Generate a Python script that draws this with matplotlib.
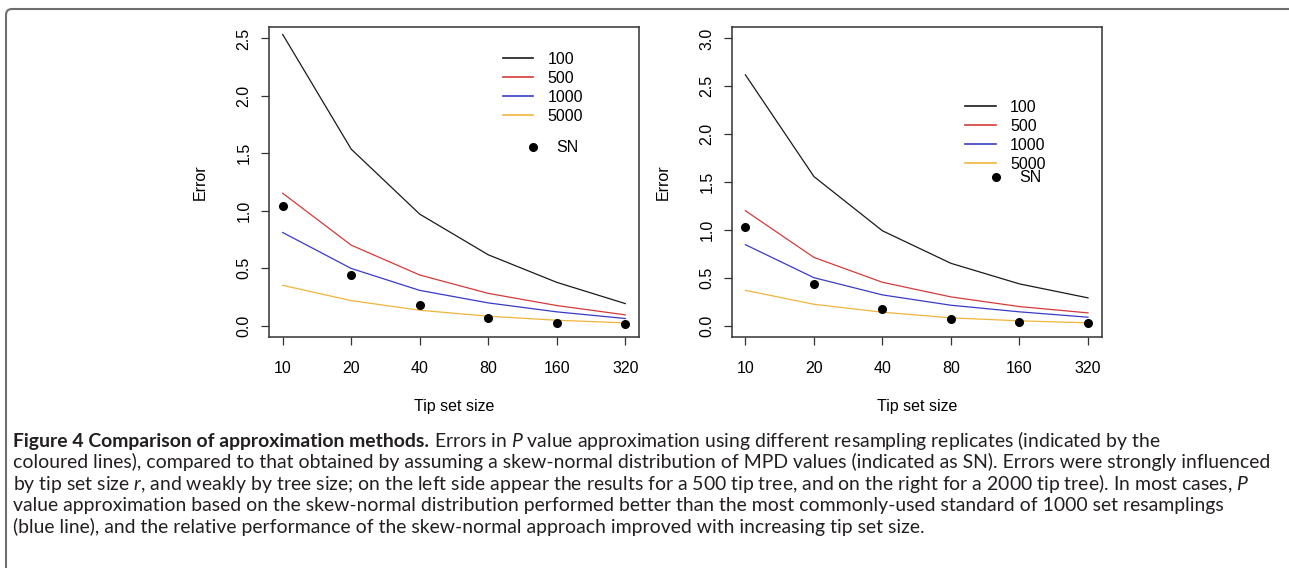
import numpy as np
import matplotlib
matplotlib.use("Agg")
import matplotlib.pyplot as plt
from matplotlib.patches import FancyBboxPatch
from matplotlib.transforms import IdentityTransform
from matplotlib.lines import Line2D

# data
tip_sizes = ["10", "20", "40", "80", "160", "320"]
replicates = ["100", "500", "1000", "5000"]
line_colors = ["#1a1a1a", "#d43a3a", "#3a3ac8", "#f0b43c"]

left_100 = [2.535, 1.536, 0.97, 0.616, 0.376, 0.191]
left_500 = [1.152, 0.70, 0.44, 0.28, 0.174, 0.093]
left_1000 = [0.81, 0.497, 0.306, 0.197, 0.119, 0.061]
left_5000 = [0.35, 0.217, 0.133, 0.081, 0.046, 0.023]
left_sn = [1.045, 0.44, 0.176, 0.064, 0.026, 0.015]

right_100 = [2.62, 1.557, 0.99, 0.65, 0.435, 0.289]
right_500 = [1.2, 0.712, 0.452, 0.299, 0.198, 0.132]
right_1000 = [0.845, 0.50, 0.32, 0.212, 0.143, 0.087]
right_5000 = [0.368, 0.222, 0.139, 0.08, 0.049, 0.028]
right_sn = [1.025, 0.435, 0.177, 0.07, 0.038, 0.024]

left_yticks = [0.0, 0.5, 1.0, 1.5, 2.0, 2.5]
right_yticks = [0.0, 0.5, 1.0, 1.5, 2.0, 2.5, 3.0]

caption_title = "Figure 4 Comparison of approximation methods."
caption_lines = [
    r"Errors in $\mathit{P}$ value approximation using different resampling replicates (indicated by the",
    "coloured lines), compared to that obtained by assuming a skew-normal distribution of MPD values (indicated as SN). Errors were strongly influenced",
    r"by tip set size $\mathit{r}$, and weakly by tree size; on the left side appear the results for a 500 tip tree, and on the right for a 2000 tip tree). In most cases, $\mathit{P}$",
    "value approximation based on the skew-normal distribution performed better than the most commonly-used standard of 1000 set resamplings",
    "(blue line), and the relative performance of the skew-normal approach improved with increasing tip set size.",
]

plt.rcParams["font.family"] = ["Liberation Sans", "DejaVu Sans"]
plt.rcParams["mathtext.fontset"] = "custom"
plt.rcParams["mathtext.rm"] = "Lato"
plt.rcParams["mathtext.it"] = "Lato:italic"
plt.rcParams["mathtext.bf"] = "Lato:bold"

W, H = 1289, 568
fig = plt.figure(figsize=(W / 100, H / 100), dpi=100)

x = np.arange(1, len(tip_sizes) + 1)


def draw_panel(left_px, series, sn, yticks, leg1, leg2):
    ax = fig.add_axes([left_px / W, 1 - 337 / H, 370 / W, 310 / H])
    for vals, c, lab in zip(series, line_colors, replicates):
        ax.plot(x, vals, color=c, lw=0.9, label=lab)
    ax.plot(x, sn, "o", color="black", ms=5.5, label="SN")

    # R style axes: 4% padding
    ax.set_xlim(x[0] - 0.04 * (x[-1] - x[0]), x[-1] + 0.04 * (x[-1] - x[0]))
    yr = yticks[-1] - yticks[0]
    ax.set_ylim(yticks[0] - 0.04 * yr, yticks[-1] + 0.04 * yr)
    ax.set_xticks(x)
    ax.set_xticklabels(tip_sizes)
    ax.set_yticks(yticks)
    ax.set_yticklabels(["%.1f" % v for v in yticks], rotation=90, va="center")
    ax.tick_params(axis="both", direction="out", length=5.5, width=0.9,
                   labelsize=11.5, color="#333333")
    ax.tick_params(axis="x", pad=11.5)
    ax.tick_params(axis="y", pad=7)
    for s in ax.spines.values():
        s.set_linewidth(1.1)
        s.set_color("#333333")

    ax.set_xlabel("Tip set size", fontsize=11.5)
    ax.set_ylabel("Error", fontsize=11.5)
    ax.xaxis.label.set_va("center")
    ax.yaxis.label.set_va("center")
    ax.xaxis.set_label_coords(0.5, -0.2248)
    ax.yaxis.set_label_coords(-68.5 / 370, 0.5)

    # two legends like the R version
    handles = [Line2D([], [], color=c, lw=1.2) for c in line_colors]
    lg = ax.legend(handles, replicates, loc="center left", bbox_to_anchor=leg1,
                   frameon=False, fontsize=11.5, handlelength=1.9,
                   handletextpad=0.9, labelspacing=0.26, borderpad=0,
                   borderaxespad=0)
    ax.add_artist(lg)
    dot = Line2D([], [], ls="none", marker="o", color="black", ms=5.5)
    ax.legend([dot], ["SN"], loc="center left", bbox_to_anchor=leg2,
              frameon=False, fontsize=11.5, handlelength=1.0,
              handletextpad=0.96, borderpad=0, borderaxespad=0)
    return ax


draw_panel(269, [left_100, left_500, left_1000, left_5000], left_sn,
           left_yticks, (0.6316, 0.8039), (0.6927, 0.6106))
draw_panel(731.7, [right_100, right_500, right_1000, right_5000], right_sn,
           right_yticks, (0.6312, 0.6489), (0.6935, 0.5139))

# frame around figure + caption
frame = FancyBboxPatch((6, -20), 1300, H - 9 + 20, boxstyle="round,pad=0,rounding_size=6",
                       transform=IdentityTransform(), fill=False,
                       edgecolor="#6e6e6e", lw=1.5)
fig.patches.append(frame)

baselines = [446.7, 468.3, 490.0, 511.5, 533.0]
x0 = 13
texts = []
for t, b in zip(caption_lines, baselines):
    texts.append(fig.text(x0 / W, 1 - b / H, t, family="Lato", fontsize=11,
                          color="#231f20", ha="left", va="baseline"))
title = fig.text(x0 / W, 1 - baselines[0] / H, caption_title, family="Lato",
                 weight="bold", fontsize=11, color="#231f20", ha="left",
                 va="baseline")

# fit the caption width to line 2
r = fig.canvas.get_renderer()
w = texts[1].get_window_extent(r).width
size = 11 * 1257 / w
for t in texts + [title]:
    t.set_fontsize(size)

# push first line after the bold title
probe = fig.text(0, 0, "a a", family="Lato", fontsize=size)
probe2 = fig.text(0, 0, "aa", family="Lato", fontsize=size)
space = probe.get_window_extent(r).width - probe2.get_window_extent(r).width
probe.remove()
probe2.remove()
tw = title.get_window_extent(r).width
texts[0].set_x((x0 + tw + space) / W)

fig.savefig("out.png", dpi=100)
